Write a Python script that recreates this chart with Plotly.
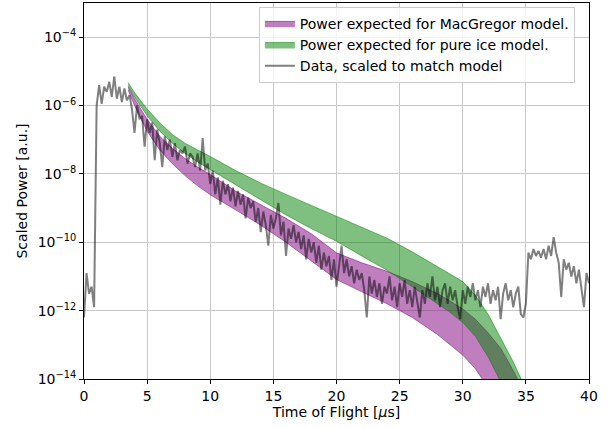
import numpy as np
import plotly.graph_objects as go

# ---- data (log10 of scaled power) ----
data_x = [round(0.2 * i, 1) for i in range(201)]
data_log = [
    -12.2, -10.9, -11.5, -11.3, -11.9, -6.0, -5.4, -5.95, -5.45, -5.6,
    -5.3, -5.75, -5.15, -5.8, -5.45, -5.9, -5.5, -5.85, -5.7, -6.1,
    -6.8, -6.0, -6.4, -6.3, -7.2, -6.4, -6.8, -6.5, -7.6, -6.7,
    -7.1, -7.8, -6.9, -7.3, -7.0, -7.5, -7.1, -7.6, -7.3, -7.4,
    -7.2, -7.7, -7.4, -7.5, -7.8, -7.4, -7.9, -6.95, -7.9, -7.7,
    -8.3, -7.9, -8.6, -8.1, -8.9, -8.2, -8.6, -8.3, -8.8, -8.4,
    -8.95, -8.5, -8.9, -8.6, -9.3, -8.7, -9.0, -8.8, -9.4, -9.0,
    -9.7, -9.1, -9.5, -10.1, -9.2, -9.6, -9.3, -8.85, -9.8, -9.4,
    -10.4, -9.6, -9.9, -9.5, -10.0, -9.7, -10.2, -9.8, -10.5, -9.9,
    -10.3, -10.0, -10.6, -10.1, -10.8, -10.3, -10.7, -10.4, -11.1, -10.5,
    -11.3, -10.6, -10.1, -10.9, -10.5, -11.0, -10.7, -11.2, -10.8, -11.1,
    -10.9, -11.4, -12.2, -11.0, -11.5, -11.1, -11.6, -11.2, -11.8, -11.3,
    -11.5, -11.0, -11.7, -11.3, -11.9, -11.2, -11.6, -11.1, -11.8, -11.4,
    -11.9, -11.3, -11.7, -12.2, -11.4, -11.8, -11.2, -11.6, -11.0, -11.7,
    -11.3, -11.9, -11.4, -11.2, -11.8, -11.3, -11.7, -11.4, -11.9, -12.25,
    -11.4, -11.8, -11.3, -11.6, -11.2, -11.7, -11.4, -11.9, -11.3, -11.6,
    -11.2, -11.8, -11.4, -11.7, -11.3, -12.25, -11.5, -11.2, -11.7, -11.4,
    -11.9, -11.5, -11.3, -12.1, -12.2, -11.8, -10.3, -10.5, -10.2, -10.4,
    -10.25, -10.45, -10.2, -10.5, -10.1, -10.4, -9.85, -10.3, -10.6, -11.6,
    -10.5, -10.8, -10.6, -11.0, -10.7, -11.2, -10.8, -11.4, -11.9, -10.9,
    -11.2,
]

# MacGregor model band (log10)
mac_x = [3.5, 4, 5, 6, 7, 8, 9, 10, 12, 14, 16, 18, 20, 22, 24, 26, 28, 29, 30, 31, 32, 33, 34, 35]
mac_upper = [-5.45, -5.8, -6.4, -6.9, -7.25, -7.55, -7.8, -8.02, -8.5, -8.9, -9.3, -9.75, -10.31,
             -10.6, -10.85, -11.15, -11.5, -11.72, -11.95, -12.25, -12.65, -13.1, -13.75, -14.5]
mac_lower = [-5.55, -6.0, -6.75, -7.3, -7.7, -8.05, -8.35, -8.61, -9.05, -9.5, -10.0, -10.55, -11.09,
             -11.45, -11.8, -12.2, -12.7, -13.0, -13.3, -13.7, -14.25, -15.0, -15.8, -16.6]

# Pure ice model band (log10)
ice_x = [3.5, 4, 5, 6, 7, 8, 9, 10, 12, 14, 16, 18, 20, 22, 24, 26, 27, 28, 29, 30, 31, 32, 33, 34, 35]
ice_upper = [-5.33, -5.62, -6.1, -6.5, -6.85, -7.1, -7.3, -7.49, -7.9, -8.27, -8.6, -8.92, -9.24,
             -9.56, -9.88, -10.28, -10.5, -10.72, -10.95, -11.15, -11.55, -12.1, -12.8, -13.5, -14.3]
ice_lower = [-5.42, -5.75, -6.3, -6.75, -7.1, -7.4, -7.65, -7.87, -8.3, -8.75, -9.2, -9.6, -9.97,
             -10.4, -10.82, -11.3, -11.55, -11.8, -12.05, -12.35, -12.75, -13.35, -14.05, -14.8, -15.6]

x_ticks = [0, 5, 10, 15, 20, 25, 30, 35, 40]
y_tick_exp = [-14, -12, -10, -8, -6, -4]

def p(v):
    return [10.0 ** a for a in v]

PURPLE_F = "rgba(128,0,128,0.5)"
GREEN_F = "rgba(0,128,0,0.5)"

fig = go.Figure()
fig.add_trace(go.Scatter(x=mac_x, y=p(mac_lower), mode="lines",
                         line=dict(color=PURPLE_F, width=1), showlegend=False, hoverinfo="skip"))
fig.add_trace(go.Scatter(x=mac_x, y=p(mac_upper), mode="lines", fill="tonexty",
                         fillcolor=PURPLE_F, line=dict(color=PURPLE_F, width=1),
                         name="Power expected for MacGregor model."))
fig.add_trace(go.Scatter(x=ice_x, y=p(ice_lower), mode="lines",
                         line=dict(color=GREEN_F, width=1), showlegend=False, hoverinfo="skip"))
fig.add_trace(go.Scatter(x=ice_x, y=p(ice_upper), mode="lines", fill="tonexty",
                         fillcolor=GREEN_F, line=dict(color=GREEN_F, width=1),
                         name="Power expected for pure ice model."))
fig.add_trace(go.Scatter(x=data_x, y=p(data_log), mode="lines",
                         line=dict(color="rgba(0,0,0,0.5)", width=2),
                         name="Data, scaled to match model"))

FS = 14
font = dict(family="DejaVu Sans", size=FS, color="black")
fig.update_layout(
    width=613, height=428,
    margin=dict(l=84, r=24, t=3, b=49),
    paper_bgcolor="white", plot_bgcolor="white",
    font=font,
    showlegend=True,
    legend=dict(x=0.972, y=0.990, xanchor="right", yanchor="top",
                traceorder="normal",
                bgcolor="rgba(255,255,255,0.8)", bordercolor="#cccccc", borderwidth=1,
                font=dict(family="DejaVu Sans", size=FS, color="black"),
                itemwidth=30, tracegroupgap=0),
    xaxis=dict(range=[0, 40], tickvals=x_ticks, ticktext=[str(t) for t in x_ticks],
               showgrid=True, gridcolor="#c8c8c8", gridwidth=1,
               showline=True, linecolor="black", linewidth=1, mirror=True,
               ticks="outside", ticklen=4, tickwidth=1, tickcolor="black",
               zeroline=False,
               title=dict(text="Time of Flight [<i>μ</i>s]", standoff=4,
                          font=dict(family="DejaVu Sans", size=FS))),
    yaxis=dict(type="log", range=[-14, -3],
               tickvals=[10.0 ** e for e in y_tick_exp],
               ticktext=["10<sup>\u2212%d</sup>" % (-e) for e in y_tick_exp],
               showgrid=True, gridcolor="#c8c8c8", gridwidth=1,
               showline=True, linecolor="black", linewidth=1, mirror=True,
               ticks="outside", ticklen=4, tickwidth=1, tickcolor="black",
               zeroline=False,
               title=dict(text="Scaled Power [a.u.]", standoff=6,
                          font=dict(family="DejaVu Sans", size=FS))),
)

fig.write_html("out.html", config={"displayModeBar": False},
               post_script="document.body.style.margin='0';")
